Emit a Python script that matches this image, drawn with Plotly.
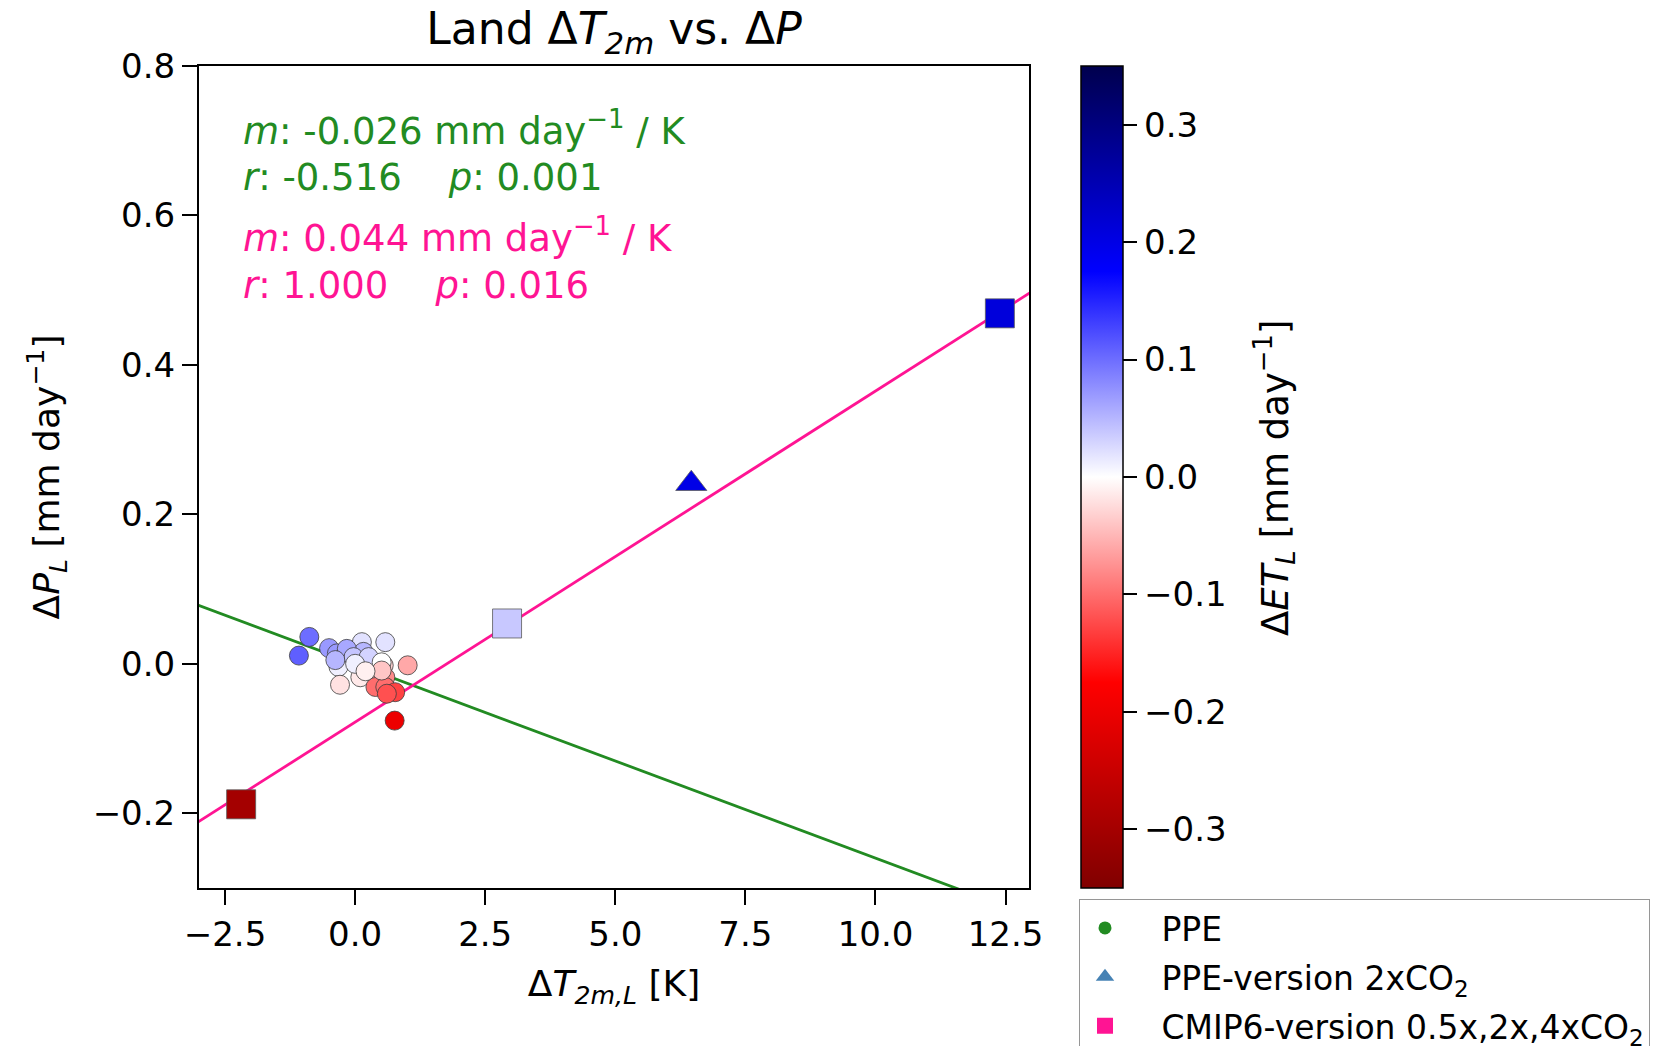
import numpy as np
import plotly.graph_objects as go

# ---------------- data ----------------
ppe_dT = [-0.88, -1.08, -0.50, -0.35, -0.22, -0.06, 0.13, 0.16, 0.035, -0.32, 0.58, -0.29, 0.10, 0.55, 1.01,
          0.39, 0.58, 0.39, 0.58, 0.77, 0.61, 0.76, -0.16, -0.03, -0.38, 0.26, 0.51, 0.51, 0.00, 0.20]
ppe_dP = [0.036, 0.011, 0.021, 0.014, 0.009, 0.018, 0.029, 0.016, 0.002, -0.004, 0.029, -0.028, -0.018, -0.002, -0.002,
          -0.009, -0.018, -0.031, -0.031, -0.038, -0.040, -0.076, 0.020, 0.009, 0.005, 0.009, 0.002, -0.009, 0.000, -0.010]
ppe_dET = [0.10, 0.11, 0.07, 0.07, 0.06, 0.05, 0.02, 0.05, 0.02, 0.01, 0.02, -0.02, -0.015, -0.03, -0.06,
           -0.05, -0.08, -0.10, -0.10, -0.13, -0.12, -0.20, 0.06, 0.04, 0.05, 0.03, 0.0, -0.04, 0.01, -0.01]

ppe2x_dT = [6.46]
ppe2x_dP = [0.241]
ppe2x_dET = [0.20]

cmip_dT = [-2.19, 2.92, 12.39]
cmip_dP = [-0.188, 0.054, 0.469]
cmip_dET = [-0.30, 0.038, 0.21]

fit_ppe = {"slope": -0.026, "intercept": 0.0}
fit_cmip = {"slope": 0.0443, "intercept": -0.078}

x_ticks = [-2.5, 0.0, 2.5, 5.0, 7.5, 10.0, 12.5]
x_ticklabels = ["−2.5", "0.0", "2.5", "5.0", "7.5", "10.0", "12.5"]
y_ticks = [-0.2, 0.0, 0.2, 0.4, 0.6, 0.8]
y_ticklabels = ["−0.2", "0.0", "0.2", "0.4", "0.6", "0.8"]
c_ticks = [-0.3, -0.2, -0.1, 0.0, 0.1, 0.2, 0.3]
c_ticklabels = ["−0.3", "−0.2", "−0.1", "0.0", "0.1", "0.2", "0.3"]

# ---------------- style ----------------
FONT = "DejaVu Sans"
GREEN = "rgb(34,139,34)"
PINK = "rgb(255,20,147)"
STEEL = "rgb(70,130,180)"
seismic_r = [[0.0, "rgb(128,0,0)"], [0.25, "rgb(255,0,0)"], [0.5, "rgb(255,255,255)"],
             [0.75, "rgb(0,0,255)"], [1.0, "rgb(0,0,77)"]]

W, H = 1658, 1046
L, R, T, B = 199, 1029, 66, 888
pw, ph = R - L, B - T
TICK = 34
LAB = 36
NB = "\u00a0"

fig = go.Figure()

xl = np.array([-4.0, 14.0])
fig.add_trace(go.Scatter(x=xl, y=fit_ppe["slope"] * xl + fit_ppe["intercept"], mode="lines",
                         line=dict(color=GREEN, width=2.8), showlegend=False, hoverinfo="skip"))
fig.add_trace(go.Scatter(x=xl, y=fit_cmip["slope"] * xl + fit_cmip["intercept"], mode="lines",
                         line=dict(color=PINK, width=2.8), showlegend=False, hoverinfo="skip"))

fig.add_trace(go.Scatter(x=ppe_dT, y=ppe_dP, mode="markers", showlegend=False,
                         marker=dict(size=19, color=ppe_dET, coloraxis="coloraxis",
                                     line=dict(color="rgb(60,60,60)", width=0.8))))
fig.add_trace(go.Scatter(x=ppe2x_dT, y=ppe2x_dP, mode="markers", showlegend=False,
                         marker=dict(size=27, symbol="triangle-up", color=ppe2x_dET, coloraxis="coloraxis",
                                     line=dict(color="rgb(90,90,90)", width=0.8))))
fig.add_trace(go.Scatter(x=cmip_dT, y=cmip_dP, mode="markers", showlegend=False,
                         marker=dict(size=29, symbol="square", color=cmip_dET, coloraxis="coloraxis",
                                     line=dict(color="rgb(90,90,90)", width=0.8))))

# legend proxies
fig.add_trace(go.Scatter(x=[None], y=[None], mode="markers", name=NB * 3 + "PPE", legendgroup="a",
                         marker=dict(size=13, color=GREEN, symbol="circle")))
fig.add_trace(go.Scatter(x=[None], y=[None], mode="markers", name=NB * 3 + "PPE-version 2xCO<sub>2</sub>",
                         legendgroup="b", marker=dict(size=20, color=STEEL, symbol="triangle-up")))
fig.add_trace(go.Scatter(x=[None], y=[None], mode="markers",
                         name=NB * 3 + "CMIP6-version 0.5x,2x,4xCO<sub>2</sub>",
                         legendgroup="c", marker=dict(size=18, color=PINK, symbol="square")))

axis_common = dict(showgrid=False, zeroline=False, showline=True, linecolor="black", linewidth=2,
                   mirror=True, ticks="outside", ticklen=15, tickwidth=1.8, tickcolor="black",
                   tickfont=dict(family=FONT, size=TICK, color="black"))

fig.update_layout(
    width=W, height=H,
    margin=dict(l=L, r=W - R, t=T, b=H - B, autoexpand=False),
    paper_bgcolor="white", plot_bgcolor="white",
    font=dict(family=FONT, color="black"),
    title=dict(text="Land Δ<i>T</i><sub><i>2m</i></sub> vs. Δ<i>P</i>", x=(L + pw / 2) / W, xanchor="center",
               y=1 - 29 / H, yanchor="middle", font=dict(size=44, family=FONT, color="black")),
    xaxis=dict(range=[-3.0, 12.95], tickvals=x_ticks, ticktext=x_ticklabels,
               title=dict(text="Δ<i>T</i><sub><i>2m,L</i></sub> [K]", font=dict(size=LAB, family=FONT), standoff=18),
               **axis_common),
    yaxis=dict(range=[-0.3, 0.8], tickvals=y_ticks, ticktext=y_ticklabels,
               title=dict(text="Δ<i>P</i><sub><i>L</i></sub> [mm day<sup>−1</sup>]", font=dict(size=LAB, family=FONT),
                          standoff=22),
               **axis_common),
    coloraxis=dict(cmin=-0.35, cmax=0.35, colorscale=seismic_r,
                   colorbar=dict(x=(1081 - L) / pw, xanchor="left", xref="paper", xpad=0, ypad=0,
                                 y=0.5, yanchor="middle",
                                 len=1.0, lenmode="fraction", thickness=42, thicknessmode="pixels",
                                 outlinecolor="black", outlinewidth=1.5,
                                 tickvals=c_ticks, ticktext=c_ticklabels, ticks="outside", ticklen=14,
                                 tickwidth=1.8, tickcolor="black",
                                 tickfont=dict(size=TICK, family=FONT, color="black"),
                                 title=dict(text=""))),
    legend=dict(x=(1079 - L) / pw, xanchor="left", y=(B - 899) / ph, yanchor="top",
                bgcolor="white", bordercolor="rgb(150,150,150)", borderwidth=1,
                font=dict(size=33, family=FONT, color="black"), tracegroupgap=3,
                itemsizing="trace", itemwidth=40),
)

# colorbar label
fig.add_annotation(text="Δ<i>ET</i><sub><i>L</i></sub> [mm day<sup>−1</sup>]", xref="paper", yref="paper",
                   x=(1274 - L) / pw, y=(B - 478) / ph, xanchor="center", yanchor="middle",
                   textangle=-90, showarrow=False, font=dict(size=37, family=FONT, color="black"))

ann = [
    ("<i>m</i>: -0.026 mm day<sup>−1</sup> / K", 128, GREEN),
    ("<i>r</i>: -0.516" + NB * 4 + "<i>p</i>: 0.001", 177, GREEN),
    ("<i>m</i>: 0.044 mm day<sup>−1</sup> / K", 235, PINK),
    ("<i>r</i>: 1.000" + NB * 4 + "<i>p</i>: 0.016", 285, PINK),
]
for txt, ypx, col in ann:
    fig.add_annotation(text=txt, xref="paper", yref="paper", x=(241 - L) / pw, y=(B - ypx) / ph,
                       xanchor="left", yanchor="middle", showarrow=False,
                       font=dict(size=37, family=FONT, color=col))

fig.write_html("out.html")
